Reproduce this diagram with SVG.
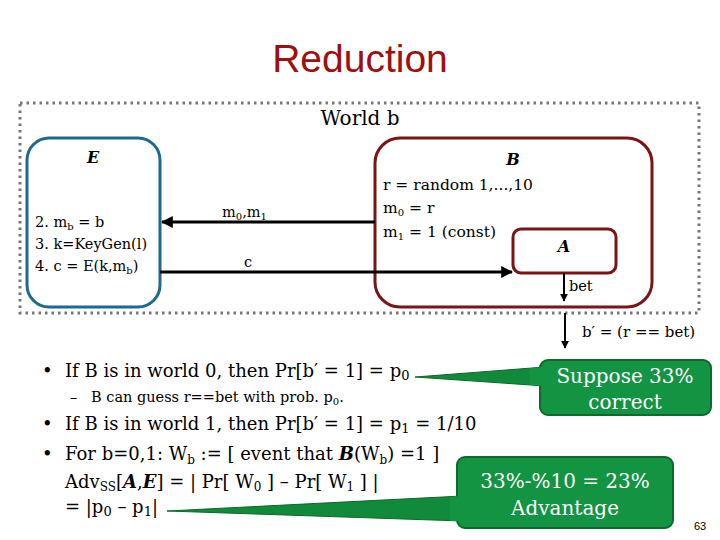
<svg xmlns="http://www.w3.org/2000/svg" width="720" height="540" viewBox="0 0 720 540">
<defs>
<marker id="ah" viewBox="0 0 10 10" refX="9" refY="5" markerWidth="4" markerHeight="4" orient="auto" markerUnits="strokeWidth">
<path d="M0,0 L10,5 L0,10 z" fill="#000"/>
</marker>
<style>
.s{font-family:"DejaVu Serif","Liberation Serif",serif;fill:#000}
.bi{font-weight:bold;font-style:italic}
.w{font-family:"DejaVu Serif","Liberation Serif",serif;fill:#fff;font-size:20px;text-anchor:middle}
.ln{stroke:#000;stroke-width:3;fill:none}
.call{fill:#139443;stroke:#0c6a2e;stroke-width:2}
</style>
</defs>
<rect width="720" height="540" fill="#fff"/>
<text x="360" y="72" font-family="Liberation Sans, Arial, sans-serif" font-size="39" fill="#a00f0f" text-anchor="middle">Reduction</text>
<g id="world">
<rect x="20" y="103" width="679" height="210" fill="none" stroke="#777" stroke-width="3" stroke-dasharray="2.5,4"/>
<text class="s" x="360" y="125" font-size="20" text-anchor="middle">World b</text>
</g>
<g id="E">
<rect x="27" y="138" width="133" height="169" rx="22" fill="none" stroke="#1f6a8a" stroke-width="3"/>
<text class="s bi" x="93" y="163" font-size="16" text-anchor="middle">E</text>
<text class="s" x="35" y="227" font-size="14.5">2. m<tspan font-size="10" dy="3">b</tspan><tspan dy="-3"> = b</tspan></text>
<text class="s" x="35" y="249" font-size="14.5">3. k=KeyGen(l)</text>
<text class="s" x="35" y="271" font-size="14.5">4. c = E(k,m<tspan font-size="10" dy="3">b</tspan><tspan dy="-3">)</tspan></text>
</g>
<g id="B">
<rect x="375" y="138" width="277" height="169" rx="25" fill="none" stroke="#7b1414" stroke-width="3"/>
<text class="s bi" x="513" y="165" font-size="16" text-anchor="middle">B</text>
<text class="s" x="383" y="190" font-size="15.5">r = random 1,...,10</text>
<text class="s" x="383" y="213" font-size="15.5">m<tspan font-size="10" dy="3">0</tspan><tspan dy="-3"> = r</tspan></text>
<text class="s" x="383" y="237" font-size="15.5">m<tspan font-size="10" dy="3">1</tspan><tspan dy="-3"> = 1 (const)</tspan></text>
</g>
<g id="A">
<rect x="513" y="229" width="103" height="44" rx="8" fill="none" stroke="#7b1414" stroke-width="3"/>
<text class="s bi" x="564" y="252" font-size="16" text-anchor="middle">A</text>
</g>
<g id="connectors">
<line class="ln" x1="375" y1="222" x2="162" y2="222" marker-end="url(#ah)"/>
<text class="s" x="222" y="217" font-size="14.5">m<tspan font-size="10" dy="3">0</tspan><tspan dy="-3">,m</tspan><tspan font-size="10" dy="3">1</tspan></text>
<line class="ln" x1="160" y1="272" x2="512" y2="272" marker-end="url(#ah)"/>
<text class="s" x="244" y="267" font-size="14.5">c</text>
<line x1="564" y1="273" x2="564" y2="301" stroke="#000" stroke-width="2" marker-end="url(#ah)"/>
<text class="s" x="569" y="291" font-size="14.5">bet</text>
<line x1="565" y1="313" x2="565" y2="348" stroke="#000" stroke-width="2" marker-end="url(#ah)"/>
<text class="s" x="582" y="337" font-size="15">b′ = (r == bet)</text>
</g>
<g id="bullets">
<text class="s" x="42" y="377" font-size="18">•</text>
<text class="s" x="65" y="377" font-size="18">If B is in world 0, then Pr[b′ = 1] = p<tspan font-size="13" dy="3">0</tspan></text>
<text class="s" x="70" y="402" font-size="14.5">–</text>
<text class="s" x="91" y="402" font-size="14.5">B can guess r==bet with prob. p<tspan font-size="10" dy="3">0</tspan><tspan dy="-3">.</tspan></text>
<text class="s" x="42" y="430" font-size="18">•</text>
<text class="s" x="65" y="430" font-size="18">If B is in world 1, then Pr[b′ = 1] = p<tspan font-size="13" dy="3">1</tspan><tspan dy="-3"> = 1/10</tspan></text>
<text class="s" x="42" y="460" font-size="18">•</text>
<text class="s" x="65" y="460" font-size="18">For b=0,1: W<tspan font-size="12" dy="4">b</tspan><tspan dy="-4"> := [ event that </tspan><tspan class="bi">B</tspan>(W<tspan font-size="12" dy="4">b</tspan><tspan dy="-4">) =1  ]</tspan></text>
<text class="s" x="65" y="488" font-size="18">Adv<tspan font-size="12" dy="3">SS</tspan><tspan dy="-3">[</tspan><tspan class="bi">A</tspan>,<tspan class="bi">E</tspan>] = | Pr[ W<tspan font-size="12" dy="3">0</tspan><tspan dy="-3"> ] –  Pr[ W</tspan><tspan font-size="12" dy="3">1</tspan><tspan dy="-3"> ] |</tspan></text>
<text class="s" x="65" y="513" font-size="18">= |p<tspan font-size="13" dy="3">0</tspan><tspan dy="-3"> – p</tspan><tspan font-size="13" dy="3">1</tspan><tspan dy="-3">|</tspan></text>
</g>
<g id="callout1">
<polygon points="415,377 545,367 545,386" fill="#118a3c" stroke="#0c6a2e" stroke-width="1"/>
<rect class="call" x="540" y="360" width="171" height="55" rx="8"/>
<polygon points="530,368 548,367 548,386 530,385" fill="#139443"/>
<text class="w" x="625" y="383">Suppose 33%</text>
<text class="w" x="625" y="409">correct</text>
</g>
<g id="callout2">
<polygon points="167,511 462,496 462,521" fill="#118a3c" stroke="#0c6a2e" stroke-width="1"/>
<rect class="call" x="457" y="457" width="216" height="71" rx="8"/>
<polygon points="450,497 460,496 460,521 450,521" fill="#139443"/>
<text class="w" x="565" y="488">33%-%10 = 23%</text>
<text class="w" x="565" y="515">Advantage</text>
</g>
<text x="700" y="530" font-family="Liberation Sans, Arial, sans-serif" font-size="11" fill="#000" text-anchor="middle">63</text>
</svg>
